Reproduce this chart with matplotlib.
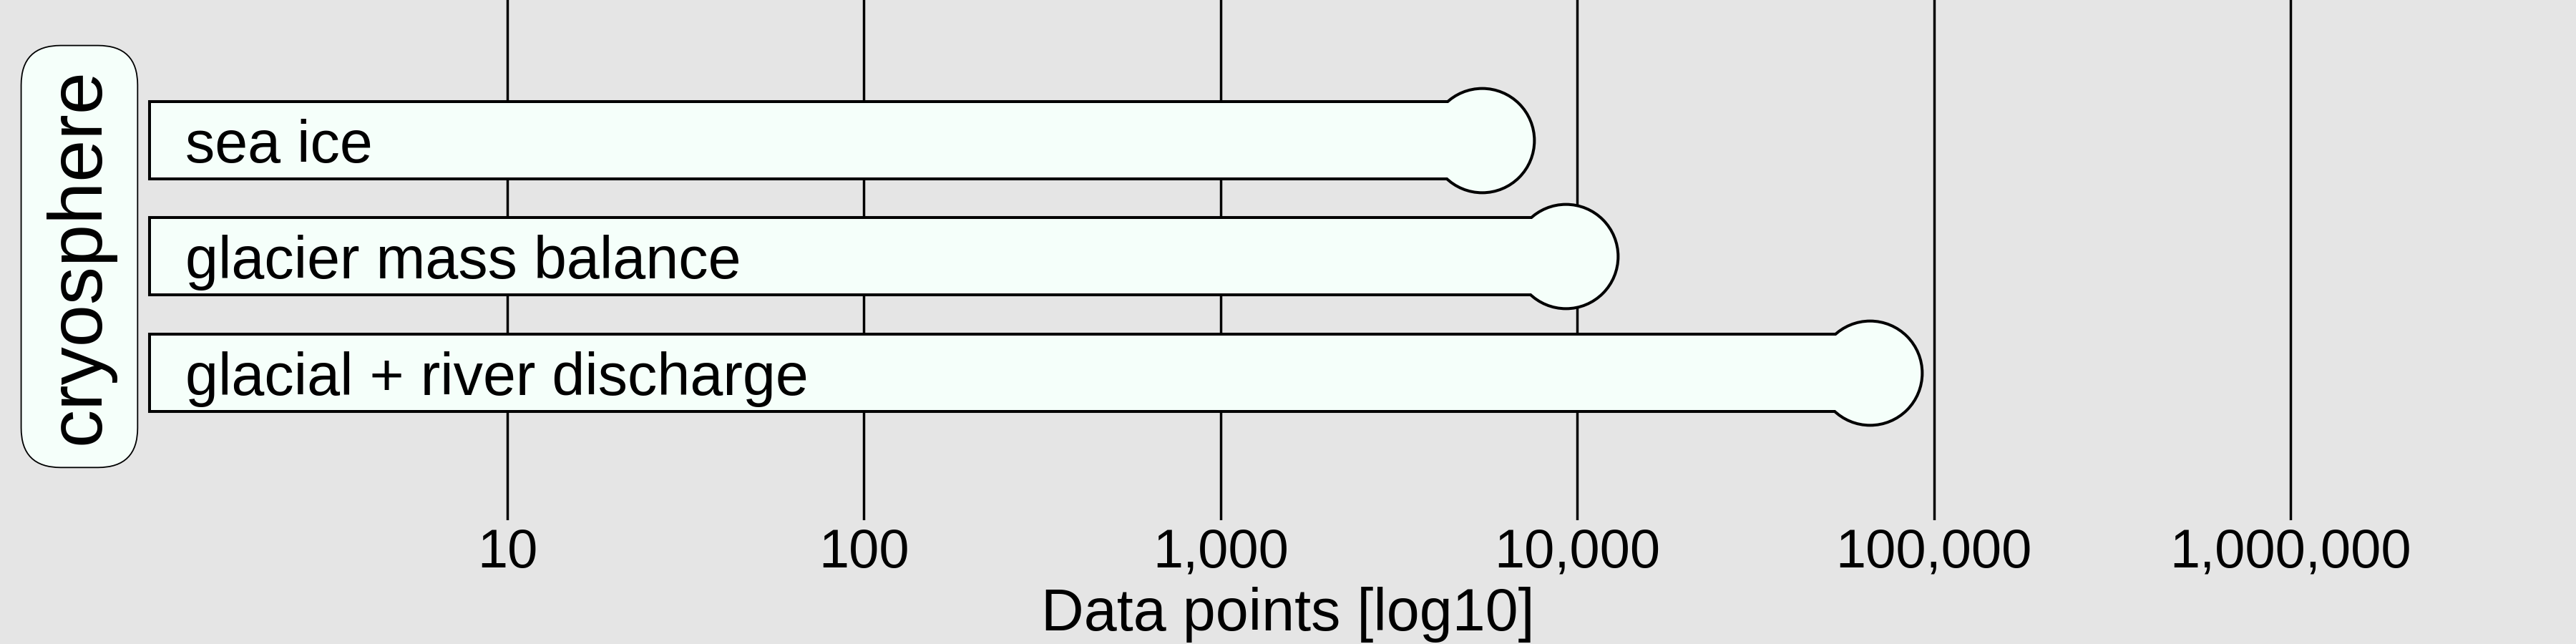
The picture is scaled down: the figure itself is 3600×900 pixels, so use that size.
import matplotlib.pyplot as plt
from matplotlib.ticker import FuncFormatter, NullLocator
import numpy as np

# data
categories = ['sea ice', 'glacier mass balance', 'glacial + river discharge']
data_points = [5400, 9300, 66000]
group = 'cryosphere'
ticks = [10, 100, 1000, 10000, 100000, 1000000]

plt.rcParams['font.family'] = ['Liberation Sans', 'DejaVu Sans']
bg = '#e5e5e5'
fill = '#f5fffa'

fig = plt.figure(figsize=(36, 9), dpi=100, facecolor=bg)
ax = fig.add_axes([0, 173 / 900, 1, 727 / 900], facecolor=bg)
ax.set_xscale('log')
ax.set_xlim(10 ** -0.4226, 10 ** 6.8006)
ax.set_ylim(3.268, -1.206)

y = np.arange(len(categories))
base = 1
widths = np.array(data_points) - base
bar_h = 0.64
dot_s = 102 ** 2

# outline layer, then a fill layer on top that hides the inner strokes
ax.barh(y, widths, left=base, height=bar_h, color=fill, edgecolor='black', linewidth=5.8, zorder=2)
ax.scatter(data_points, y, s=dot_s, color=fill, edgecolors='black', linewidths=5.8, zorder=2)
ax.barh(y, widths, left=base, height=bar_h, color=fill, linewidth=0, zorder=3)
ax.scatter(data_points, y, s=dot_s, color=fill, linewidths=0, zorder=3)

for yi, name in zip(y, categories):
    ax.annotate(name, (base, yi), xytext=(35, -22), textcoords='offset points',
                ha='left', va='baseline', fontsize=59.5, zorder=4)

ax.text(10 ** -0.2, 1, group, rotation=90, ha='center', va='center', fontsize=76.5, zorder=4,
        bbox=dict(boxstyle='round,pad=0.3,rounding_size=0.52', fc=fill, ec='black', lw=1.3))

ax.set_xticks(ticks)
ax.xaxis.set_major_formatter(FuncFormatter(lambda v, p: f'{v:,.0f}'))
ax.xaxis.set_minor_locator(NullLocator())
ax.tick_params(axis='x', length=0, pad=8, labelsize=54.5)
ax.set_yticks([])
ax.grid(axis='x', color='black', linewidth=2.5)
ax.set_axisbelow(True)
for s in ax.spines.values():
    s.set_visible(False)
ax.set_xlabel('Data points [log10]', fontsize=59.5, labelpad=8)

fig.savefig('out.png', dpi=100, facecolor=bg)
